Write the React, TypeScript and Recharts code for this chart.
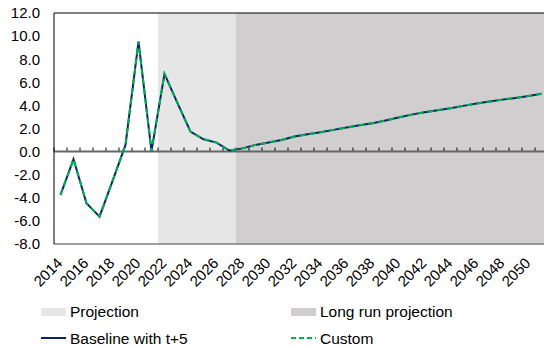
import React from 'react'
import {
  ComposedChart,
  Bar,
  Line,
  XAxis,
  YAxis,
  ReferenceLine,
  Cell
} from 'recharts'

// data
const years = [
  2014, 2015, 2016, 2017, 2018, 2019, 2020, 2021, 2022, 2023, 2024, 2025, 2026,
  2027, 2028, 2029, 2030, 2031, 2032, 2033, 2034, 2035, 2036, 2037, 2038, 2039,
  2040, 2041, 2042, 2043, 2044, 2045, 2046, 2047, 2048, 2049, 2050, 2051
]
const baseline = [
  -3.75, -0.66, -4.47, -5.63, -2.55, 0.58, 9.52, 0.05, 6.73, 4.19, 1.73, 1.07, 0.78,
  0.09, 0.28, 0.58, 0.78, 1.01, 1.3, 1.5, 1.68, 1.88, 2.08, 2.28, 2.46, 2.7,
  2.96, 3.2, 3.41, 3.58, 3.76, 3.96, 4.16, 4.33, 4.5, 4.65, 4.82, 5.0
]
const custom = [
  -3.75, -0.66, -4.47, -5.63, -2.55, 0.58, 9.52, 0.05, 6.73, 4.19, 1.73, 1.07, 0.78,
  0.09, 0.28, 0.58, 0.78, 1.01, 1.3, 1.5, 1.68, 1.88, 2.08, 2.28, 2.46, 2.7,
  2.96, 3.2, 3.41, 3.58, 3.76, 3.96, 4.16, 4.33, 4.5, 4.65, 4.82, 5.0
]
const projectionYears = [2022, 2023, 2024, 2025, 2026, 2027]
const longRunYears = [
  2028, 2029, 2030, 2031, 2032, 2033, 2034, 2035, 2036, 2037, 2038, 2039, 2040,
  2041, 2042, 2043, 2044, 2045, 2046, 2047, 2048, 2049, 2050, 2051
]
const yTicks = [-8, -6, -4, -2, 0, 2, 4, 6, 8, 10, 12]

const FONT = '"Liberation Sans", Arial, sans-serif'
const NAVY = '#0c2366'
const GREEN = '#00b050'
const PROJ_FILL = '#e6e6e6'
const LONG_FILL = '#d0cecf'
const TICK_H = 0.35 // tick marks on zero line, in y units

const data = years.map((year, i) => ({
  year,
  baseline: baseline[i],
  custom: custom[i],
  shade:
    projectionYears.includes(year) || longRunYears.includes(year)
      ? [yTicks[0], yTicks[yTicks.length - 1]]
      : null,
  tick: [0, TICK_H]
}))

const YearTick = (props: any) => {
  const { x, y, payload } = props
  if (payload.value % 2 !== 0) return <g />
  const ax = x + 3
  const ay = y - 10
  return (
    <text
      x={ax}
      y={ay}
      transform={`rotate(-45, ${ax}, ${ay})`}
      textAnchor="end"
      fontSize={15}
      fontFamily={FONT}
      fill="#000"
    >
      {payload.value}
    </text>
  )
}

const TickMark = (props: any) => {
  const { x, y, height } = props
  return <line x1={x} x2={x} y1={y} y2={y + height} stroke="#000" strokeWidth={1} />
}

const LegendRow = () => (
  <svg width={544} height={57} style={{ position: 'absolute', left: 0, top: 290 }}>
    <rect x={41} y={18} width={25} height={8} fill={PROJ_FILL} />
    <text x={70} y={21} dominantBaseline="central" fontSize={15.5} fontFamily={FONT}>
      Projection
    </text>
    <rect x={291} y={18} width={25} height={8} fill={LONG_FILL} />
    <text x={320} y={21} dominantBaseline="central" fontSize={15.5} fontFamily={FONT}>
      Long run projection
    </text>
    <line x1={41} x2={66} y1={48} y2={48} stroke={NAVY} strokeWidth={2} />
    <text x={70} y={48} dominantBaseline="central" fontSize={15.5} fontFamily={FONT}>
      Baseline with t+5
    </text>
    <line x1={291} x2={316} y1={48} y2={48} stroke={GREEN} strokeWidth={2} strokeDasharray="5 3" />
    <text x={320} y={48} dominantBaseline="central" fontSize={15.5} fontFamily={FONT}>
      Custom
    </text>
  </svg>
)

export default function App() {
  return (
    <div
      style={{
        position: 'absolute',
        left: 0,
        top: 0,
        width: 544,
        height: 347,
        overflow: 'hidden',
        background: '#fff'
      }}
    >
      <ComposedChart
        width={560}
        height={300}
        data={data}
        margin={{ top: 13, right: 12, left: 0, bottom: 0 }}
        barCategoryGap={0}
        barGap={0}
      >
        <XAxis xAxisId="bg" dataKey="year" hide />
        <XAxis
          xAxisId="main"
          dataKey="year"
          height={56}
          axisLine={false}
          tickLine={false}
          tickSize={0}
          tickMargin={0}
          interval={0}
          tick={<YearTick />}
        />
        <YAxis
          width={54}
          domain={[-8, 12]}
          ticks={yTicks}
          tickFormatter={(v: number) => v.toFixed(1)}
          axisLine={{ stroke: '#000', strokeWidth: 1 }}
          tickLine={false}
          tickSize={0}
          tickMargin={14}
          tick={{ fontSize: 15, fontFamily: FONT, fill: '#000' }}
          allowDataOverflow
        />
        <Bar xAxisId="bg" dataKey="shade" isAnimationActive={false}>
          {data.map((d) => (
            <Cell
              key={d.year}
              fill={projectionYears.includes(d.year) ? PROJ_FILL : LONG_FILL}
            />
          ))}
        </Bar>
        <ReferenceLine xAxisId="main" y={12} stroke="#000" strokeWidth={1} />
        <ReferenceLine xAxisId="main" y={-8} stroke="#7f7f7f" strokeWidth={1.5} />
        <ReferenceLine xAxisId="main" y={0} stroke="#666" strokeWidth={2} />
        <Bar xAxisId="main" dataKey="tick" shape={<TickMark />} isAnimationActive={false} />
        <Line
          xAxisId="main"
          dataKey="baseline"
          stroke={NAVY}
          strokeWidth={2}
          dot={false}
          activeDot={false}
          isAnimationActive={false}
        />
        <Line
          xAxisId="main"
          dataKey="custom"
          stroke={GREEN}
          strokeWidth={2}
          strokeDasharray="6 4"
          dot={false}
          activeDot={false}
          isAnimationActive={false}
        />
      </ComposedChart>
      <LegendRow />
    </div>
  )
}
